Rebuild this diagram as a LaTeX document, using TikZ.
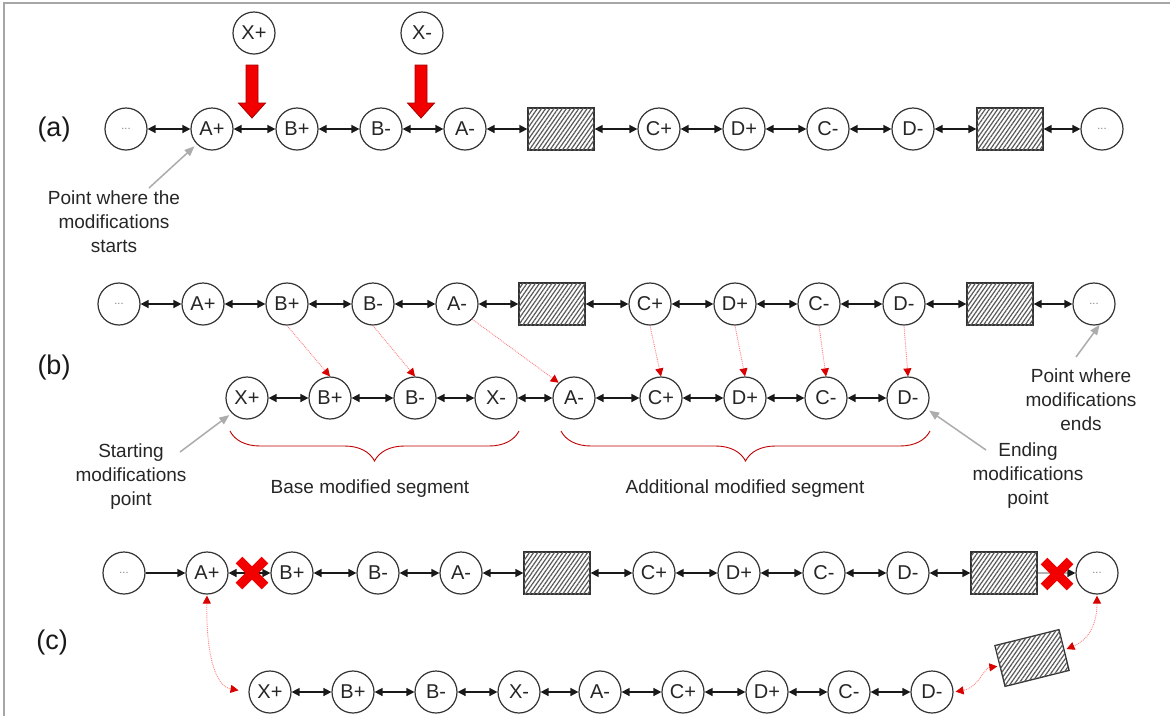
\documentclass[tikz,border=0pt]{standalone}
\usepackage{fontspec}
\setmainfont{Liberation Sans}
\usetikzlibrary{arrows.meta,patterns.meta,decorations.pathreplacing}

\begin{document}
\begin{tikzpicture}[x=1pt,y=1pt,
  every node/.style={inner sep=0pt},
  nd/.style={circle,draw=black!80,line width=1.2pt,minimum size=42pt,fill=white,
    font=\fontsize{20}{20}\selectfont,text=black!85},
  dots/.style={nd,font=\fontsize{11}{11}\selectfont,text=black!50},
  blk/.style={draw=black!80,line width=1.3pt,minimum width=66pt,minimum height=42pt,
    fill=white,postaction={pattern={Lines[angle=55,distance=3.4pt,line width=1.2pt]},
    pattern color=black!65}},
  lnk/.style={line width=1.5pt,draw=black!90,
    {Triangle[length=8pt,width=8pt]}-{Triangle[length=8pt,width=8pt]}},
  onelnk/.style={line width=1.3pt,draw=black!90,-{Triangle[length=8pt,width=8pt]}},
  greylnk/.style={line width=1.3pt,draw=gray!60,-{Triangle[length=8pt,width=8pt,color=black!90]}},
  gar/.style={draw=gray!65,line width=1.5pt,-{Triangle[length=10pt,width=8pt]}},
  rd/.style={draw=red!50,line width=0.9pt,densely dotted,
    -{Triangle[length=8pt,width=8pt,color=red!85!black]}},
  rdd/.style={rd,{Triangle[length=8pt,width=8pt,color=red!85!black]}-{Triangle[length=8pt,width=8pt,color=red!85!black]}},
  lab/.style={font=\fontsize{19}{24}\selectfont,align=center,text=black!85},
  part/.style={font=\fontsize{27}{27}\selectfont,text=black!90},
  brc/.style={draw=red!75!black,line width=0.9pt,
    decorate,decoration={brace,mirror,amplitude=30pt,aspect=0.5}},
  xmark/.style={draw=red!95!black,line width=9.5pt},
  redarrow/.pic={
    \draw[fill=red!95!black,draw=red!65!black,line width=0.8pt]
      (-6,0) -- (6,0) -- (6,-38) -- (13.5,-38) -- (0,-53) -- (-13.5,-38) -- (-6,-38) -- cycle;
  }
]
\useasboundingbox (0,0) rectangle (1170,-716);
\fill[white] (0,0) rectangle (1170,-716);
% frame
\draw[gray!70,line width=2pt] (4,-716) -- (4,-3) -- (1170,-3);

% ---------------- (a) ----------------
\node[part] (pa) at (54,-130) {(a)};
\node[dots] (a0) at (126,-129) {...};
\node[nd] (a1) at (212,-129) {A+};
\node[nd] (a2) at (297,-129) {B+};
\node[nd] (a3) at (381,-129) {B-};
\node[nd] (a4) at (465,-129) {A-};
\node[blk] (a5) at (561,-129) {};
\node[nd] (a6) at (659,-129) {C+};
\node[nd] (a7) at (744,-129) {D+};
\node[nd] (a8) at (828,-129) {C-};
\node[nd] (a9) at (913,-129) {D-};
\node[blk] (a10) at (1010,-129) {};
\node[dots] (a11) at (1102,-129) {...};
\foreach \p/\q in {a0/a1,a1/a2,a2/a3,a3/a4,a4/a5,a5/a6,a6/a7,a7/a8,a8/a9,a9/a10,a10/a11}
  \draw[lnk] (\p) -- (\q);

\node[nd] (xp) at (254,-33) {X+};
\node[nd] (xm) at (422,-33) {X-};
\pic at (252,-65) {redarrow};
\pic at (421,-65) {redarrow};

\node[lab] (ta) at (114,-222) {Point where the\\modifications\\starts};
\coordinate (ta0) at (149,-188);
\draw[gar,shorten >=3pt] (ta0) -- (a1.225);

% ---------------- (b) ----------------
\node[part] (pb) at (54,-368) {(b)};
\node[dots] (b0) at (119,-304) {...};
\node[nd] (b1) at (203,-304) {A+};
\node[nd] (b2) at (287,-304) {B+};
\node[nd] (b3) at (373,-304) {B-};
\node[nd] (b4) at (457,-304) {A-};
\node[blk] (b5) at (552,-304) {};
\node[nd] (b6) at (650,-304) {C+};
\node[nd] (b7) at (735,-304) {D+};
\node[nd] (b8) at (819,-304) {C-};
\node[nd] (b9) at (904,-304) {D-};
\node[blk] (b10) at (1000,-304) {};
\node[dots] (b11) at (1094,-304) {...};
\foreach \p/\q in {b0/b1,b1/b2,b2/b3,b3/b4,b4/b5,b5/b6,b6/b7,b7/b8,b8/b9,b9/b10,b10/b11}
  \draw[lnk] (\p) -- (\q);

\node[nd] (m0) at (247,-398) {X+};
\node[nd] (m1) at (330,-398) {B+};
\node[nd] (m2) at (415,-398) {B-};
\node[nd] (m3) at (496,-398) {X-};
\node[nd] (m4) at (574,-398) {A-};
\node[nd] (m5) at (661,-398) {C+};
\node[nd] (m6) at (745,-398) {D+};
\node[nd] (m7) at (826,-398) {C-};
\node[nd] (m8) at (908,-398) {D-};
\foreach \p/\q in {m0/m1,m1/m2,m2/m3,m3/m4,m4/m5,m5/m6,m6/m7,m7/m8}
  \draw[lnk] (\p) -- (\q);

\draw[rd] (b2.south) -- (m1.north);
\draw[rd] (b3.south) -- (m2.north);
\draw[rd] (b4.-45) -- (m4.135);
\draw[rd] (b6.south) -- (m5.north);
\draw[rd] (b7.south) -- (m6.north);
\draw[rd] (b8.south) -- (m7.north);
\draw[rd] (b9.south) -- (m8.north);

\draw[brc] (230,-431) -- (519,-431);
\draw[brc] (561,-431) -- (930,-431);
\node[lab] (tb1) at (370,-489) {Base modified segment};
\node[lab] (tb2) at (745,-489) {Additional modified segment};

\node[lab] (ts) at (131,-477) {Starting\\modifications\\point};
\coordinate (ts0) at (180,-452);
\draw[gar,shorten >=3pt] (ts0) -- (m0.225);

\node[lab] (te) at (1081,-400) {Point where\\modifications\\ends};
\coordinate (te0) at (1076,-357);
\draw[gar] (te0) -- (b11.-75);

\node[lab] (tf) at (1028,-476) {Ending\\modifications\\point};
\coordinate (tf0) at (986,-450);
\draw[gar,shorten >=3pt] (tf0) -- (m8.-30);

% ---------------- (c) ----------------
\node[part] (pc) at (52,-643) {(c)};
\node[dots] (c0) at (124,-573) {...};
\node[nd] (c1) at (207,-573) {A+};
\node[nd] (c2) at (292,-573) {B+};
\node[nd] (c3) at (378,-573) {B-};
\node[nd] (c4) at (461,-573) {A-};
\node[blk] (c5) at (557,-573) {};
\node[nd] (c6) at (654,-573) {C+};
\node[nd] (c7) at (739,-573) {D+};
\node[nd] (c8) at (824,-573) {C-};
\node[nd] (c9) at (908,-573) {D-};
\node[blk] (c10) at (1004,-573) {};
\node[dots] (c11) at (1097,-573) {...};
\draw[onelnk] (c0) -- (c1);
\foreach \p/\q in {c1/c2,c2/c3,c3/c4,c4/c5,c5/c6,c6/c7,c7/c8,c8/c9,c9/c10}
  \draw[lnk] (\p) -- (\q);
\draw[greylnk] (c10) -- (c11);

\node[nd] (d0) at (270,-692) {X+};
\node[nd] (d1) at (353,-692) {B+};
\node[nd] (d2) at (436,-692) {B-};
\node[nd] (d3) at (519,-692) {X-};
\node[nd] (d4) at (600,-692) {A-};
\node[nd] (d5) at (683,-692) {C+};
\node[nd] (d6) at (767,-692) {D+};
\node[nd] (d7) at (849,-692) {C-};
\node[nd] (d8) at (932,-692) {D-};
\foreach \p/\q in {d0/d1,d1/d2,d2/d3,d3/d4,d4/d5,d5/d6,d6/d7,d7/d8}
  \draw[lnk] (\p) -- (\q);

\node[blk,rotate=14] (dr) at (1032,-658) {};

\draw[rdd,shorten <=1pt,shorten >=10pt] (c1.south) .. controls (206,-650) and (214,-686) .. (d0.west);
\draw[rdd,shorten <=1pt,shorten >=2pt] (c11.south) .. controls (1097,-625) and (1088,-640) .. (dr.east);
\draw[rdd,shorten <=2pt,shorten >=2pt] (dr.west) .. controls (984,-668) and (978,-688) .. (d8.east);

% broken links
\coordinate (k1) at (252,-573);
\coordinate (k2) at (1057,-574);
\draw[xmark] ([shift={(-13,13)}]k1) -- ([shift={(13,-13)}]k1);
\draw[xmark] ([shift={(-13,-13)}]k1) -- ([shift={(13,13)}]k1);
\draw[xmark] ([shift={(-13,13)}]k2) -- ([shift={(13,-13)}]k2);
\draw[xmark] ([shift={(-13,-13)}]k2) -- ([shift={(13,13)}]k2);
\end{tikzpicture}
\end{document}
